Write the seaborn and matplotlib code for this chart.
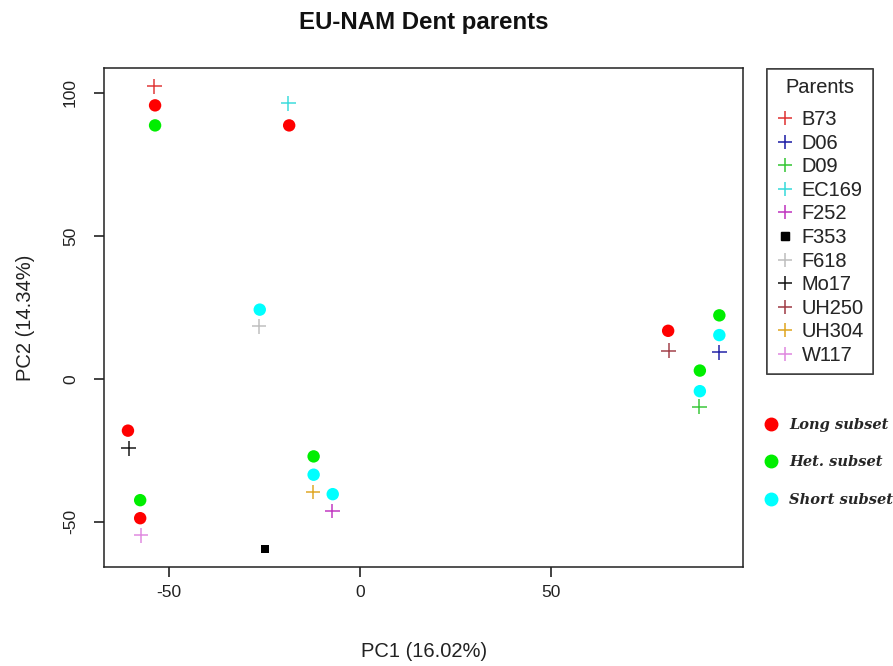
import numpy as np
import pandas as pd
import matplotlib
matplotlib.use("Agg")
import matplotlib.pyplot as plt
from matplotlib.lines import Line2D
import seaborn as sns

# ---- data ----
parents = ["B73", "D06", "D09", "EC169", "F252", "F353", "F618", "Mo17", "UH250", "UH304", "W117"]
parent_x = [-53.9, 94.0, 88.8, -18.8, -7.3, -24.9, -26.5, -60.6, 80.7, -12.4, -57.4]
parent_y = [102.2, 9.3, -9.7, 96.3, -46.2, -59.3, 18.4, -24.3, 9.9, -39.6, -54.7]
parent_colors = ["#E03A3A", "#2525A8", "#3CC83C", "#3FDCDC", "#C23BC2", "#000000",
                 "#C0C0C0", "#1A1A1A", "#A3434C", "#E0A828", "#E08CE0"]

long_x = [-53.7, -18.6, -60.8, -57.6, 80.6]
long_y = [95.6, 88.6, -18.1, -48.7, 16.8]
het_x = [-53.7, -57.6, -12.2, 94.0, 88.9]
het_y = [88.6, -42.4, -27.1, 22.2, 2.9]
short_x = [-26.3, -12.2, -7.2, 94.0, 88.9]
short_y = [24.2, -33.5, -40.3, 15.3, -4.3]

subsets = ["Long subset", "Het. subset", "Short subset"]
subset_colors = ["#FF0000", "#00EE00", "#00FFFF"]

x_ticks = [-50, 0, 50]
y_ticks = [-50, 0, 50, 100]

sns.set_theme(style="white")
plt.rcParams["font.family"] = ["Liberation Sans", "DejaVu Sans"]

W, H = 893, 666
fig = plt.figure(figsize=(W / 100, H / 100), dpi=100)
ax = fig.add_axes([104.3 / W, 1 - 567 / H, (743 - 104.3) / W, (567 - 68) / H])

sub_df = pd.DataFrame({
    "x": long_x + het_x + short_x,
    "y": long_y + het_y + short_y,
    "subset": [subsets[0]] * len(long_x) + [subsets[1]] * len(het_x) + [subsets[2]] * len(short_x),
})
sns.scatterplot(data=sub_df, x="x", y="y", hue="subset", hue_order=subsets,
                palette=subset_colors, s=80, linewidth=0, legend=False, ax=ax, zorder=3)

par_df = pd.DataFrame({"x": parent_x, "y": parent_y, "parent": parents})
par_df["shape"] = np.where(par_df["parent"] == "F353", "sq", "plus")
cross_df = par_df[par_df["shape"] == "plus"]
sq_df = par_df[par_df["shape"] == "sq"]
pal = dict(zip(parents, parent_colors))
sns.scatterplot(data=cross_df, x="x", y="y", hue="parent", palette=pal, marker="+",
                s=110, linewidth=1.1, legend=False, ax=ax, zorder=4)
sns.scatterplot(data=sq_df, x="x", y="y", hue="parent", palette=pal, marker="s",
                s=40, linewidth=0, legend=False, ax=ax, zorder=4)

# R-style limits (4% expansion)
allx = parent_x + long_x + het_x + short_x
ally = parent_y + long_y + het_y + short_y
dx = (max(allx) - min(allx)) * 0.04
dy = (max(ally) - min(ally)) * 0.04
ax.set_xlim(min(allx) - dx, max(allx) + dx)
ax.set_ylim(min(ally) - dy, max(ally) + dy)

ax.set_xticks(x_ticks)
ax.set_yticks(y_ticks)
ax.set_xticklabels([str(t) for t in x_ticks], fontsize=12.5, color="#222222")
ax.set_yticklabels([str(t) for t in y_ticks], fontsize=12.5, color="#222222",
                   rotation=90, va="center")
ax.tick_params(axis="both", direction="out", length=7, width=1.2, color="#222222",
               bottom=True, left=True)
ax.tick_params(axis="x", pad=6)
ax.tick_params(axis="y", pad=12)
for sp in ax.spines.values():
    sp.set_visible(True)
    sp.set_color("#222222")
    sp.set_linewidth(1.1)
ax.grid(False)
ax.set_facecolor("white")

ax.set_xlabel("PC1 (16.02%)", fontsize=14.5, color="#222222", labelpad=30)
ax.set_ylabel("PC2 (14.34%)", fontsize=14.5, color="#222222", labelpad=20)
fig.text((104.3 + 743) / 2 / W, 1 - 22 / H, "EU-NAM Dent parents", ha="center", va="center",
         fontsize=17.3, fontweight="bold", color="#111111")

# Parents legend
handles = []
for p, c in zip(parents, parent_colors):
    if p == "F353":
        handles.append(Line2D([], [], marker="s", color=c, linestyle="none", markersize=6))
    else:
        handles.append(Line2D([], [], marker="+", color=c, linestyle="none",
                              markersize=10, markeredgewidth=1.1))
leg1 = ax.legend(handles, parents, title="Parents", loc="upper left",
                 bbox_to_anchor=(766.7 / W, 1 - 69 / H), bbox_transform=fig.transFigure,
                 borderaxespad=0, frameon=True, fancybox=False, fontsize=14.4,
                 title_fontsize=14.4, labelspacing=0.23, handlelength=0.9,
                 handletextpad=0.4, borderpad=0.45)
leg1._legend_box.sep = 14.4 * 0.23 + 6
leg1.get_frame().set_edgecolor("#222222")
leg1.get_frame().set_linewidth(1.1)
ax.add_artist(leg1)

# Subset legend
h2 = [Line2D([], [], marker="o", color=c, linestyle="none", markersize=9) for c in subset_colors]
leg2 = fig.legend(h2, subsets, loc="upper left", bbox_to_anchor=(765 / W, 1 - 418 / H),
                  bbox_transform=fig.transFigure, borderaxespad=0, frameon=False,
                  prop={"family": "DejaVu Serif", "weight": "bold", "style": "italic", "size": 10.5},
                  labelspacing=1.61, handlelength=0.8, handletextpad=0.85, borderpad=0)

fig.savefig("out.png", dpi=100, facecolor="white")
